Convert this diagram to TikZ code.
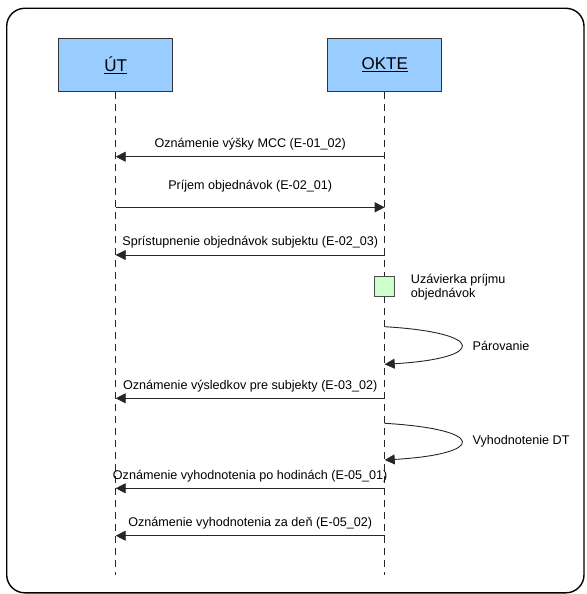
\documentclass[tikz,border=0pt]{standalone}
\usepackage{fontspec}
\setmainfont{Liberation Sans}
\usetikzlibrary{arrows.meta}
\definecolor{actorblue}{HTML}{99CCFF}
\definecolor{notegreen}{HTML}{CCFFCC}
\begin{document}
\begin{tikzpicture}[
    x=1pt, y=-1pt,
    actor/.style={draw=black!80, line width=1pt, fill=actorblue, minimum width=114pt, minimum height=53pt, font=\fontsize{17}{20}\selectfont},
    lifeline/.style={draw=black!85, dash pattern=on 7pt off 5pt, line width=0.9pt},
    msg/.style={-{Triangle[length=10pt,width=10pt]}, line width=0.9pt, draw=black!85},
    msglabel/.style={font=\fontsize{12.6}{13.7}\selectfont, inner sep=1pt},
    notebox/.style={draw=black!70, fill=notegreen, minimum size=20pt, inner sep=0pt, line width=0.8pt}
]
    \useasboundingbox (0,0) rectangle (586,594);
    \draw[line width=1.4pt, rounded corners=18pt] (6.7,8.3) rectangle (584,592.8);

    % actors and lifelines
    \node[actor] (ut) at (115.7,65) {\underline{ÚT}};
    \node[actor] (okte) at (384.7,65) {\underline{OKTE}};
    \coordinate (utend) at (115.7,575);
    \coordinate (okteend) at (384.7,575);
    \draw[lifeline] (ut) -- (utend);
    \draw[lifeline] (okte) -- (okteend);

    % messages
    \draw[msg] (okte |- 0,156.7) -- (ut |- 0,156.7) node[msglabel, midway, above=5pt] {Oznámenie výšky MCC (E-01\_02)};
    \draw[msg] (ut |- 0,207.3) -- (okte |- 0,207.3) node[msglabel, midway, above=14pt] {Príjem objednávok (E-02\_01)};
    \draw[msg] (okte |- 0,255) -- (ut |- 0,255) node[msglabel, midway, above=5pt] {Sprístupnenie objednávok subjektu (E-02\_03)};

    \node[notebox] (close) at (384.5,286.7) {};
    \node[msglabel, anchor=west, align=left, inner sep=0pt] (closelabel) at (410.7,287.5) {Uzávierka príjmu\\objednávok};

    \draw[msg] (okte |- 0,326.7) .. controls +(102,6) and +(102,-6) .. (okte |- 0,364.3) node[msglabel, midway, right=10pt] {Párovanie};
    \draw[msg] (okte |- 0,398.3) -- (ut |- 0,398.3) node[msglabel, midway, above=5pt] {Oznámenie výsledkov pre subjekty (E-03\_02)};
    \draw[msg] (okte |- 0,423.3) .. controls +(102,6) and +(102,-6) .. (okte |- 0,460) node[msglabel, midway, right=10pt] {Vyhodnotenie DT};
    \draw[msg] (okte |- 0,488.3) -- (ut |- 0,488.3) node[msglabel, midway, above=5pt] {Oznámenie vyhodnotenia po hodinách (E-05\_01)};
    \draw[msg] (okte |- 0,535.7) -- (ut |- 0,535.7) node[msglabel, midway, above=5pt] {Oznámenie vyhodnotenia za deň (E-05\_02)};
\end{tikzpicture}
\end{document}
